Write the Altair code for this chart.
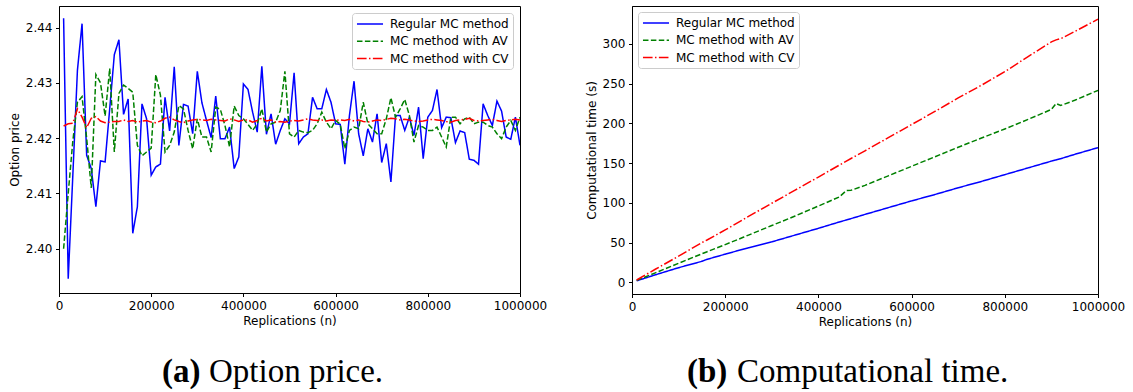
import altair as alt
import pandas as pd

series_names = ["Regular MC method", "MC method with AV", "MC method with CV"]
series_colors = ["#0000ff", "#008000", "#ff0000"]
series_dashes = [[1, 0], [5.5, 2.4], [9.6, 2.4, 1.5, 2.4]]

# ---- panel (a): option price ----
price_n = list(range(10000, 1000001, 10000))
price_regular = [
    2.4417, 2.3946, 2.4133, 2.4323, 2.4407, 2.4169, 2.4145, 2.4076, 2.4159, 2.4157,
    2.4253, 2.4351, 2.4378, 2.4243, 2.4271, 2.4028, 2.4076, 2.4262, 2.4235, 2.4133,
    2.4148, 2.4153, 2.4274, 2.4213, 2.4329, 2.4187, 2.4261, 2.4258, 2.4208, 2.4321,
    2.4264, 2.4232, 2.4201, 2.4276, 2.4199, 2.4199, 2.4220, 2.4145, 2.4166, 2.4298,
    2.4288, 2.4247, 2.4211, 2.4330, 2.4207, 2.4244, 2.4189, 2.4214, 2.4235, 2.4226,
    2.4318, 2.4190, 2.4202, 2.4208, 2.4274, 2.4253, 2.4253, 2.4288, 2.4265, 2.4226,
    2.4225, 2.4153, 2.4241, 2.4303, 2.4208, 2.4168, 2.4217, 2.4193, 2.4244, 2.4156,
    2.4190, 2.4121, 2.4241, 2.4241, 2.4214, 2.4238, 2.4205, 2.4256, 2.4163, 2.4238,
    2.4250, 2.4288, 2.4219, 2.4238, 2.4237, 2.4192, 2.4213, 2.4210, 2.4162, 2.4160,
    2.4153, 2.4262, 2.4241, 2.4223, 2.4267, 2.4249, 2.4202, 2.4198, 2.4238, 2.4187,
]
price_av = [
    2.4000, 2.4100, 2.4195, 2.4265, 2.4275, 2.4200, 2.4110, 2.4315, 2.4300, 2.4240,
    2.4326, 2.4175, 2.4281, 2.4296, 2.4290, 2.4283, 2.4187, 2.4168, 2.4175, 2.4182,
    2.4315, 2.4278, 2.4175, 2.4187, 2.4211, 2.4259, 2.4253, 2.4214, 2.4181, 2.4235,
    2.4202, 2.4202, 2.4175, 2.4256, 2.4252, 2.4223, 2.4184, 2.4258, 2.4241, 2.4235,
    2.4225, 2.4214, 2.4226, 2.4253, 2.4211, 2.4226, 2.4229, 2.4250, 2.4321, 2.4208,
    2.4202, 2.4214, 2.4211, 2.4210, 2.4214, 2.4226, 2.4247, 2.4229, 2.4217, 2.4232,
    2.4225, 2.4181, 2.4214, 2.4220, 2.4217, 2.4265, 2.4226, 2.4217, 2.4208, 2.4208,
    2.4235, 2.4273, 2.4238, 2.4253, 2.4270, 2.4241, 2.4193, 2.4223, 2.4220, 2.4214,
    2.4214, 2.4220, 2.4202, 2.4184, 2.4238, 2.4238, 2.4226, 2.4235, 2.4238, 2.4226,
    2.4229, 2.4229, 2.4223, 2.4220, 2.4208, 2.4199, 2.4220, 2.4232, 2.4214, 2.4238,
]
price_cv = [
    2.4222, 2.4226, 2.4227, 2.4253, 2.4238, 2.4219, 2.4236, 2.4239, 2.4231, 2.4228,
    2.4229, 2.4230, 2.4230, 2.4233, 2.4230, 2.4232, 2.4229, 2.4231, 2.4232, 2.4229,
    2.4228, 2.4231, 2.4236, 2.4238, 2.4233, 2.4230, 2.4228, 2.4231, 2.4233, 2.4234,
    2.4233, 2.4232, 2.4234, 2.4233, 2.4232, 2.4231, 2.4235, 2.4233, 2.4230, 2.4233,
    2.4233, 2.4229, 2.4232, 2.4236, 2.4231, 2.4233, 2.4229, 2.4230, 2.4229, 2.4231,
    2.4232, 2.4231, 2.4233, 2.4235, 2.4233, 2.4232, 2.4233, 2.4231, 2.4233, 2.4232,
    2.4233, 2.4232, 2.4234, 2.4231, 2.4233, 2.4230, 2.4229, 2.4231, 2.4233, 2.4232,
    2.4234, 2.4236, 2.4235, 2.4233, 2.4234, 2.4233, 2.4231, 2.4230, 2.4231, 2.4233,
    2.4234, 2.4233, 2.4232, 2.4230, 2.4229, 2.4232, 2.4233, 2.4234, 2.4236, 2.4232,
    2.4231, 2.4232, 2.4233, 2.4234, 2.4232, 2.4230, 2.4232, 2.4233, 2.4234, 2.4233,
]
price_y_ticks = [2.40, 2.41, 2.42, 2.43, 2.44]

# ---- panel (b): computational time ----
time_n = [10000, 50000, 100000, 150000, 160000, 200000, 240000, 250000, 300000,
          350000, 400000, 445000, 460000, 470000, 500000, 550000, 600000, 650000,
          700000, 750000, 800000, 850000, 900000, 910000, 920000, 950000, 1000000]
time_regular = [2.0, 9.5, 18.5, 26.5, 28.8, 35.5, 42.0, 43.5, 51.0,
                59.5, 68.0, 76.0, 78.5, 80.2, 85.5, 94.0, 102.5, 110.5,
                119.0, 127.0, 135.5, 144.0, 152.5, 154.0, 155.6, 161.0, 169.5]
time_av = [2.5, 12.0, 24.0, 36.0, 38.3, 47.5, 57.0, 59.5, 71.5,
           83.5, 96.0, 107.5, 115.5, 115.8, 122.0, 134.0, 146.0, 158.0,
           170.0, 181.5, 193.0, 205.0, 217.5, 225.0, 222.5, 229.0, 241.5]
time_cv = [3.0, 16.5, 33.0, 50.0, 53.0, 66.0, 79.5, 83.0, 99.5,
           116.0, 132.5, 147.5, 152.5, 155.8, 165.5, 182.0, 198.5, 215.0,
           232.0, 248.0, 265.0, 284.0, 302.5, 305.0, 306.5, 315.5, 331.0]
time_y_ticks = [0, 50, 100, 150, 200, 250, 300]

x_ticks = [0, 200000, 400000, 600000, 800000, 1000000]

caption_a = ["(a)", "Option price."]
caption_b = ["(b)", "Computational time."]

FONT = "DejaVu Sans"


def axis(values, fmt, title, **kw):
    return alt.Axis(
        values=values, format=fmt, title=title, grid=False,
        domainColor="black", tickColor="black", labelColor="black", titleColor="black",
        labelFont=FONT, labelFontSize=12, titleFont=FONT, titleFontSize=12,
        titleFontWeight="normal", tickSize=3.5, labelPadding=3.5, titlePadding=4,
        domainWidth=1, tickWidth=1, labelOverlap=False, **kw
    )


def legend(orient, offset):
    return alt.Legend(
        title=None, orient=orient, offset=offset,
        symbolType="M-2.17,0H2.17", symbolSize=144, symbolStrokeWidth=1.5,
        symbolOffset=7,
        labelFont=FONT, labelFontSize=12, labelColor="black",
        labelOffset=13, rowPadding=4.3, padding=4,
        strokeColor="#cccccc", fillColor="rgba(255,255,255,0.8)",
        cornerRadius=3,
    )


def panel(n, series, ydomain, yticks, yfmt, ytitle, leg, width, height, caption, cap_x):
    layers = []
    for name, vals in zip(series_names, series):
        df = pd.DataFrame({"n": n, "value": vals, "method": name})
        layers.append(
            alt.Chart(df).mark_line(strokeWidth=1.5, clip=True).encode(
                x=alt.X("n:Q", scale=alt.Scale(domain=[0, 1000000], nice=False, zero=False),
                        axis=axis(x_ticks, "d", "Replications (n)", labelFlush=False)),
                y=alt.Y("value:Q", scale=alt.Scale(domain=ydomain, nice=False, zero=False),
                        axis=axis(yticks, yfmt, ytitle)),
                color=alt.Color("method:N",
                                scale=alt.Scale(domain=series_names, range=series_colors),
                                sort=series_names, legend=leg),
                strokeDash=alt.StrokeDash("method:N",
                                          scale=alt.Scale(domain=series_names, range=series_dashes),
                                          sort=series_names, legend=leg),
            )
        )
    cap_df1 = pd.DataFrame({"t": [caption[0]]})
    cap_df2 = pd.DataFrame({"t": [caption[1]]})
    layers.append(
        alt.Chart(cap_df1).mark_text(font="Liberation Serif", fontSize=33, fontWeight="bold",
                                     align="left", baseline="alphabetic", color="black").encode(
            x=alt.value(cap_x[0]), y=alt.value(376), text="t:N")
    )
    layers.append(
        alt.Chart(cap_df2).mark_text(font="Liberation Serif", fontSize=33,
                                     align="left", baseline="alphabetic", color="black").encode(
            x=alt.value(cap_x[1]), y=alt.value(376), text="t:N")
    )
    return alt.layer(*layers).properties(width=width, height=height)


left = panel(price_n, [price_regular, price_av, price_cv], [2.392, 2.4439], price_y_ticks,
             ".2f", "Option price", legend("top-right", 7), 461, 287, caption_a, [103, 150])
right = panel(time_n, [time_regular, time_av, time_cv], [-14.6, 347.6], time_y_ticks,
              "d", "Computational time (s)", legend("top-left", 6), 466, 288, caption_b, [55, 105])

chart = alt.hconcat(left, right, spacing=112, bounds="flush").resolve_scale(
    color="independent", strokeDash="independent", x="independent", y="independent"
).resolve_legend(color="independent", strokeDash="independent").properties(
    padding={"left": 7, "top": 5, "right": 0, "bottom": 0}, background="white"
).configure_view(stroke="black", strokeWidth=1)

chart.save("out.html", embed_options={"renderer": "svg", "actions": False})
